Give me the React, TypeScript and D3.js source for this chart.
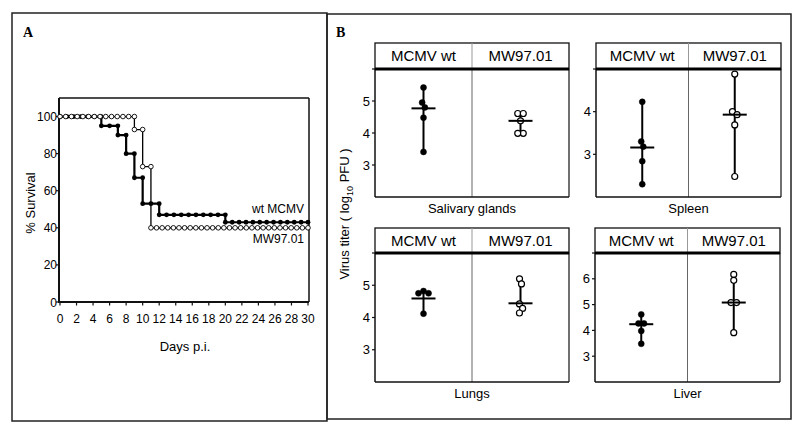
import React, { useMemo } from "react";
import * as d3 from "d3";

// ---------- Panel A data ----------
const dayTicks = [0, 2, 4, 6, 8, 10, 12, 14, 16, 18, 20, 22, 24, 26, 28, 30];
const survivalTicks = [0, 20, 40, 60, 80, 100];
const wtDays = [0, 5, 7, 8, 9, 10, 12, 20];
const wtSurvival = [100, 95, 90, 80, 67, 53, 47, 43];
const mwDays = [0, 9, 10, 11];
const mwSurvival = [100, 93, 73, 40];
const endDay = 30;
const seriesLabels = ["wt MCMV", "MW97.01"];

// ---------- Panel B data ----------
const organs = ["Salivary glands", "Spleen", "Lungs", "Liver"];
const groups = ["MCMV wt", "MW97.01"];
const titerMin = [2, 2, 2, 2];
const titerMax = [6, 5, 6, 7];
const titerTicks = [[3, 4, 5], [3, 4], [3, 4, 5], [3, 4, 5, 6]];
const wtTiter = [
  [5.42, 4.95, 4.8, 4.48, 3.41],
  [4.23, 3.3, 3.18, 2.84, 2.3],
  [4.82, 4.75, 4.75, 4.12],
  [4.62, 4.27, 4.27, 3.98, 3.48],
];
const mwTiter = [
  [4.61, 4.61, 4.38, 3.99, 3.99],
  [4.88, 4.0, 3.93, 3.69, 2.48],
  [5.2, 5.04, 4.42, 4.28, 4.14],
  [6.17, 5.94, 5.08, 5.08, 3.91],
];
const wtCenter = [4.77, 3.16, 4.59, 4.24];
const mwCenter = [4.38, 3.93, 4.44, 5.08];

// ---------- layout ----------
const FONT = "Liberation Sans, Arial, Helvetica, sans-serif";
const SERIF = "Liberation Serif, Times New Roman, serif";
const A = { left: 59, right: 309, top: 98, bottom: 302 };
const subLayout = [
  { left: 375, right: 569, top: 43, hb: 69, bottom: 197, titleY: 213 },
  { left: 596, right: 781, top: 43, hb: 69, bottom: 197, titleY: 213 },
  { left: 375, right: 569, top: 228, hb: 253, bottom: 382, titleY: 398 },
  { left: 595, right: 780, top: 228, hb: 253, bottom: 382, titleY: 398 },
];

function markerXs(xs: number[], end: number, sx: d3.ScaleLinear<number, number>, spacing: number) {
  const pts: { x: number; i: number }[] = [];
  xs.forEach((d, i) => {
    const x0 = sx(d);
    const x1 = sx(i + 1 < xs.length ? xs[i + 1] : end);
    const len = x1 - x0;
    const n = Math.max(1, Math.floor(len / spacing));
    for (let k = 0; k <= n; k++) pts.push({ x: x0 + (k * len) / n, i });
  });
  return pts;
}

function swarm(values: number[], cx: number, sy: d3.ScaleLinear<number, number>, r: number) {
  const nodes: any[] = values.map((v, i) => ({ x: cx + (i % 2 ? 0.5 : -0.5) * 0, fy: sy(v), y: sy(v), v }));
  const sim = d3
    .forceSimulation(nodes)
    .force("x", d3.forceX(cx).strength(0.08))
    .force("c", d3.forceCollide(r * 0.92))
    .stop();
  for (let k = 0; k < 300; k++) sim.tick();
  return nodes.map((n) => ({ x: n.x, y: n.fy }));
}

function SurvivalPanel() {
  const sx = d3.scaleLinear().domain([0, 30]).range([A.left + 1, A.right - 1]);
  const sy = d3.scaleLinear().domain([0, 110]).range([A.bottom, A.top]);
  const line = d3
    .line<[number, number]>()
    .x((d) => sx(d[0]))
    .y((d) => sy(d[1]))
    .curve(d3.curveStepAfter);
  const wtPts: [number, number][] = wtDays.map((d, i) => [d, wtSurvival[i]]);
  wtPts.push([endDay, wtSurvival[wtSurvival.length - 1]]);
  const mwPts: [number, number][] = mwDays.map((d, i) => [d, mwSurvival[i]]);
  mwPts.push([endDay, mwSurvival[mwSurvival.length - 1]]);
  const wtMarks = markerXs(wtDays, endDay, sx, 6.8);
  const mwMarks = markerXs(mwDays, endDay, sx, 5.6);

  return (
    <g>
      <text x={23} y={37} fontFamily={SERIF} fontWeight="bold" fontSize={14}>A</text>
      {/* frame */}
      <line x1={A.left} x2={A.right} y1={A.top} y2={A.top} stroke="#111" strokeWidth={1.5} />
      <line x1={A.right} x2={A.right} y1={A.top} y2={A.bottom} stroke="#111" strokeWidth={1.5} />
      <line x1={A.left} x2={A.left} y1={A.top} y2={A.bottom + 1} stroke="#111" strokeWidth={2} />
      <line x1={A.left} x2={A.right} y1={A.bottom} y2={A.bottom} stroke="#111" strokeWidth={2} />
      {survivalTicks.map((t) => (
        <g key={t}>
          <line x1={A.left - 3} x2={A.left} y1={sy(t)} y2={sy(t)} stroke="#111" strokeWidth={1.2} />
          <text x={A.left - 2} y={sy(t) + 4.5} textAnchor="end" fontFamily={FONT} fontSize={12}>{t}</text>
        </g>
      ))}
      {dayTicks.map((t) => (
        <g key={t}>
          <line x1={sx(t)} x2={sx(t)} y1={A.bottom} y2={A.bottom + 3.5} stroke="#111" strokeWidth={1.2} />
          <text x={sx(t)} y={A.bottom + 21} textAnchor="middle" fontFamily={FONT} fontSize={12}>{t}</text>
        </g>
      ))}
      <text x={185} y={351} textAnchor="middle" fontFamily={FONT} fontSize={13}>Days p.i.</text>
      <text transform="translate(35,203) rotate(-90)" textAnchor="middle" fontFamily={FONT} fontSize={13}>% Survival</text>

      <path d={line(wtPts) || ""} fill="none" stroke="#000" strokeWidth={2.2} />
      {wtMarks.map((m, k) => (
        <circle key={k} cx={m.x} cy={sy(wtSurvival[m.i])} r={2.4} fill="#000" />
      ))}
      <path d={line(mwPts) || ""} fill="none" stroke="#000" strokeWidth={1.3} />
      {mwMarks.map((m, k) => (
        <circle key={k} cx={m.x} cy={sy(mwSurvival[m.i])} r={2.3} fill="#fff" stroke="#000" strokeWidth={0.9} />
      ))}
      <text x={304} y={213} textAnchor="end" fontFamily={FONT} fontSize={12}>{seriesLabels[0]}</text>
      <text x={304} y={243} textAnchor="end" fontFamily={FONT} fontSize={12}>{seriesLabels[1]}</text>
    </g>
  );
}

function TiterPanel({ idx }: { idx: number }) {
  const L = subLayout[idx];
  const sy = d3.scaleLinear().domain([titerMin[idx], titerMax[idx]]).range([L.bottom, L.hb]);
  const sx = d3.scalePoint<string>().domain(groups).range([L.left, L.right]).padding(0.5);
  const mid = (L.left + L.right) / 2;
  const r = 3;
  const sets = [wtTiter[idx], mwTiter[idx]];
  const centers = [wtCenter[idx], mwCenter[idx]];
  const ticks = [...titerTicks[idx], titerMax[idx]];
  return (
    <g>
      {/* header */}
      <rect x={L.left} y={L.top} width={L.right - L.left} height={L.hb - L.top} fill="#fff" stroke="#111" strokeWidth={1.3} />
      <line x1={mid} x2={mid} y1={L.top} y2={L.hb} stroke="#999" strokeWidth={1} />
      {groups.map((g) => (
        <text key={g} x={sx(g)} y={(L.top + L.hb) / 2 + 5} textAnchor="middle" fontFamily={FONT} fontSize={15}>{g}</text>
      ))}
      {/* plot frame */}
      <line x1={mid} x2={mid} y1={L.hb} y2={L.bottom} stroke="#666" strokeWidth={1} />
      <line x1={L.right} x2={L.right} y1={L.hb} y2={L.bottom} stroke="#111" strokeWidth={1.2} />
      <line x1={L.left} x2={L.right} y1={L.bottom} y2={L.bottom} stroke="#111" strokeWidth={1.5} />
      <line x1={L.left} x2={L.left} y1={L.hb} y2={L.bottom} stroke="#111" strokeWidth={1.5} />
      <line x1={L.left} x2={L.right} y1={L.hb} y2={L.hb} stroke="#000" strokeWidth={3} />
      {ticks.map((t) => (
        <g key={t}>
          <line x1={L.left - 3} x2={L.left} y1={sy(t)} y2={sy(t)} stroke="#111" strokeWidth={1.2} />
          {t !== titerMax[idx] && (
            <text x={L.left - 5} y={sy(t) + 4.5} textAnchor="end" fontFamily={FONT} fontSize={13}>{t}</text>
          )}
        </g>
      ))}
      <text x={mid} y={L.titleY} textAnchor="middle" fontFamily={FONT} fontSize={13}>{organs[idx]}</text>
      {groups.map((g, gi) => {
        const vals = sets[gi];
        const cx = sx(g) as number;
        const pts = swarm(vals, cx, sy, r);
        const filled = gi === 0;
        return (
          <g key={g}>
            <line x1={cx} x2={cx} y1={sy(d3.max(vals) as number)} y2={sy(d3.min(vals) as number)} stroke="#000" strokeWidth={2} />
            {pts.map((p, k) => (
              <circle key={k} cx={p.x} cy={p.y} r={r} fill={filled ? "#000" : "#fff"} stroke="#000" strokeWidth={filled ? 0.5 : 1.2} />
            ))}
            <line x1={cx - 12} x2={cx + 12} y1={sy(centers[gi])} y2={sy(centers[gi])} stroke="#000" strokeWidth={2} />
          </g>
        );
      })}
    </g>
  );
}

export default function App() {
  return (
    <svg width={800} height={433} style={{ position: "absolute", left: 0, top: 0, background: "#fff" }}>
      <rect x={0} y={0} width={800} height={433} fill="#fff" />
      {/* outer panel borders */}
      <rect x={12} y={13} width={315} height={408} fill="none" stroke="#222" strokeWidth={1.5} />
      <rect x={327} y={14} width={464} height={405} fill="none" stroke="#222" strokeWidth={1.5} />
      <SurvivalPanel />
      <text x={336} y={37} fontFamily={SERIF} fontWeight="bold" fontSize={14}>B</text>
      <text transform="translate(349,214) rotate(-90)" textAnchor="middle" fontFamily={FONT} fontSize={13}>
        Virus titer ( log<tspan fontSize={9} dy={4}>10</tspan><tspan dy={-4}> PFU )</tspan>
      </text>
      {organs.map((o, i) => (
        <TiterPanel key={o} idx={i} />
      ))}
    </svg>
  );
}
